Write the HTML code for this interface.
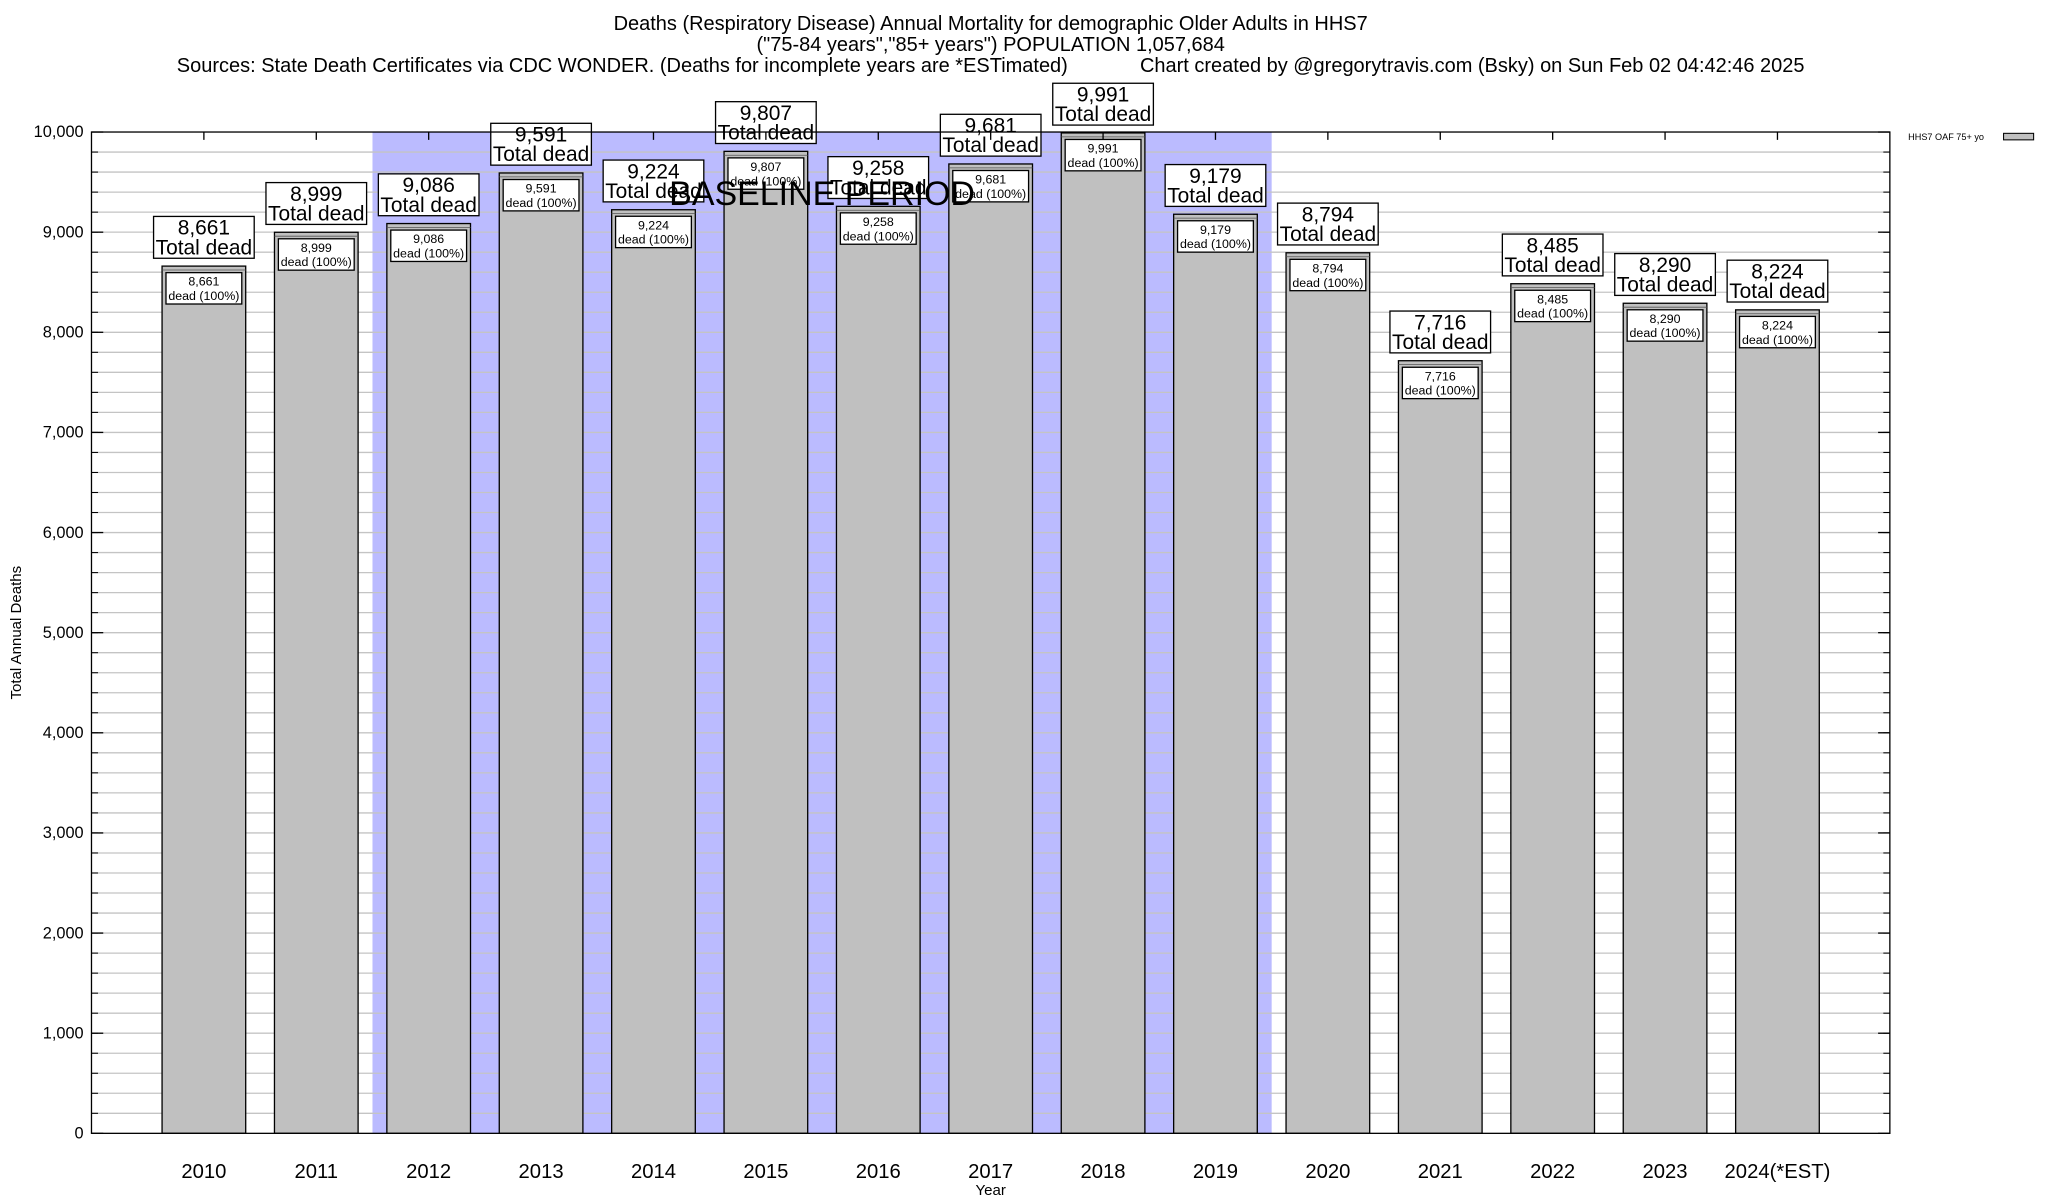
<!DOCTYPE html>
<html><head><meta charset="utf-8"><style>
html,body{margin:0;padding:0;background:#fff;}
svg{display:block;font-family:"Liberation Sans",Arial,sans-serif;}
</style></head><body>
<svg id="chart" width="2048" height="1200" viewBox="0 0 1567 918" preserveAspectRatio="none" xmlns="http://www.w3.org/2000/svg">
<g text-anchor="middle" font-size="15.3">
<text x="758" y="23">Deaths (Respiratory Disease) Annual Mortality for demographic Older Adults in HHS7</text>
<text x="758" y="39">("75-84 years","85+ years") POPULATION 1,057,684</text>
<text x="758" y="55" xml:space="preserve">Sources: State Death Certificates via CDC WONDER. (Deaths for incomplete years are *ESTimated)             Chart created by @gregorytravis.com (Bsky) on Sun Feb 02 04:42:46 2025</text>
</g>
<g id="plot"></g>
<text x="16" y="484" font-size="11.5" text-anchor="middle" transform="rotate(-90 16 484)">Total Annual Deaths</text>
<text x="758" y="914" font-size="11.5" text-anchor="middle">Year</text>
<g>
<text x="1460" y="107" font-size="7">HHS7 OAF 75+ yo</text>
<rect x="1533" y="102" width="23" height="5" fill="#c0c0c0" stroke="#000" stroke-width="0.8"/>
</g>
</svg>
<script>
const categories=["2010","2011","2012","2013","2014","2015","2016","2017","2018","2019","2020","2021","2022","2023","2024(*EST)"];
const deaths=[8661,8999,9086,9591,9224,9807,9258,9681,9991,9179,8794,7716,8485,8290,8224];
const yTicks=[0,1000,2000,3000,4000,5000,6000,7000,8000,9000,10000];
const baselineStart=2, baselineEnd=9;
const L=70,R=1446,T=101,B=867;
const yMax=10000;
function y(v){return B-(v/yMax)*(B-T);}
function x(i){return L+(R-L)/16*(i+1);}
const step=(R-L)/16, barW=64;
const NS="http://www.w3.org/2000/svg";
const g=document.getElementById('plot');
function el(tag,attrs,parent){const e=document.createElementNS(NS,tag);for(const k in attrs)e.setAttribute(k,attrs[k]);(parent||g).appendChild(e);return e;}
const fmt=v=>v.toLocaleString('en-US');
const band=el('rect',{x:x(baselineStart)-step/2,y:T,width:step*(baselineEnd-baselineStart+1),height:B-T,fill:'#bbbbff'});


for(let v=200;v<yMax;v+=200){
  const ln=el('line',{x1:L,x2:R,y1:y(v),y2:y(v),stroke:'#c4c4c4','stroke-width':1});
  
  
  el('line',{x1:L,x2:L+5,y1:y(v),y2:y(v),stroke:'#000','stroke-width':0.8});
  el('line',{x1:R-5,x2:R,y1:y(v),y2:y(v),stroke:'#000','stroke-width':0.8});
}
yTicks.forEach(v=>{
  const t=el('text',{x:L-6,y:y(v)+4,'font-size':12.5,'text-anchor':'end'});t.textContent=fmt(v);
  
  
  el('line',{x1:L,x2:L+9,y1:y(v),y2:y(v),stroke:'#000','stroke-width':1});
  el('line',{x1:R-9,x2:R,y1:y(v),y2:y(v),stroke:'#000','stroke-width':1});
});
categories.forEach((c,i)=>{
  const v=deaths[i],cx=x(i),top=y(v);
  const bar=el('rect',{x:cx-barW/2,y:top,width:barW,height:B-top,fill:'#c0c0c0',stroke:'#000','stroke-width':1});
  
  
  el('line',{x1:cx-barW/2,x2:cx+barW/2,y1:top+3,y2:top+3,stroke:'#555','stroke-width':0.6});
  const ib=el('rect',{x:cx-29,y:top+5,width:58,height:24,fill:'#fff',stroke:'#000','stroke-width':1});
  
  
  const t1=el('text',{x:cx,y:top+15,'font-size':9.5,'text-anchor':'middle'});t1.textContent=fmt(v);
  const t2=el('text',{x:cx,y:top+26,'font-size':9.5,'text-anchor':'middle'});t2.textContent='dead (100%)';
  const ob=el('rect',{x:cx-38.5,y:top-38,width:77,height:32,fill:'#fff',stroke:'#000','stroke-width':1});
  
  
  const t3=el('text',{x:cx,y:top-24,'font-size':16,'text-anchor':'middle'});t3.textContent=fmt(v);
  const t4=el('text',{x:cx,y:top-9,'font-size':16,'text-anchor':'middle'});t4.textContent='Total dead';
  const xl=el('text',{x:cx,y:901,'font-size':15.5,'text-anchor':'middle'});xl.textContent=c;
  
  
  el('line',{x1:cx,x2:cx,y1:T,y2:T+6,stroke:'#000','stroke-width':1});
});
const bl=el('text',{x:x(5.5),y:157,'font-size':26,'text-anchor':'middle'});bl.textContent='BASELINE PERIOD';


const frame=el('rect',{x:L,y:T,width:R-L,height:B-T,fill:'none',stroke:'#000','stroke-width':1});


</script>
</body></html>
